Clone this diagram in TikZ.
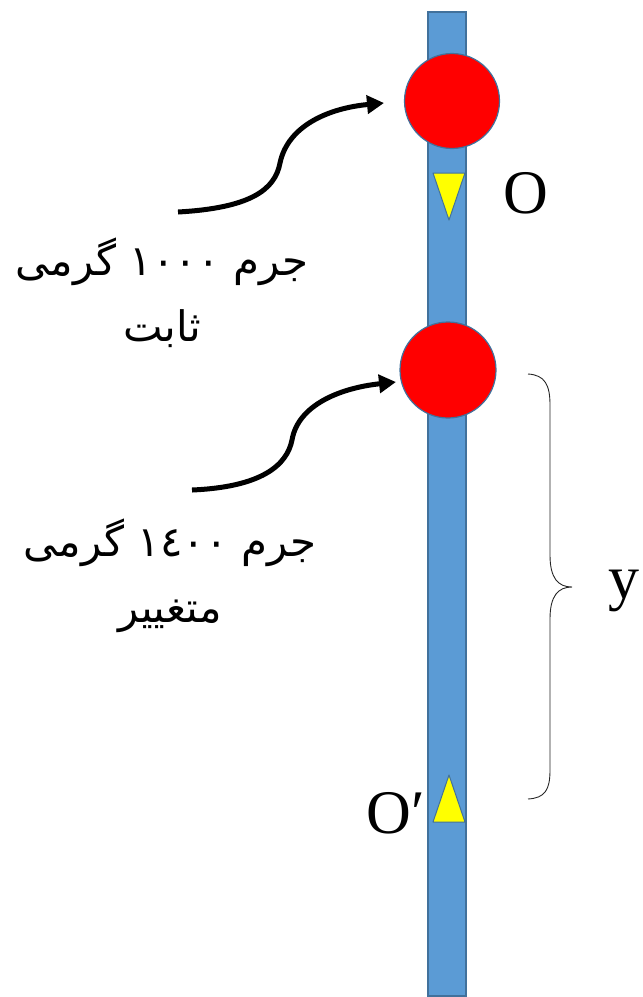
\documentclass[tikz,border=0pt]{standalone}
\usepackage{fontspec}
\setmainfont{Liberation Serif}
\newfontfamily\arabicfont[Script=Arabic]{DejaVu Sans}
\TeXXeTstate=1
\usetikzlibrary{arrows.meta}
\definecolor{barblue}{HTML}{5B9BD5}
\definecolor{edgeblue}{HTML}{41719C}
\definecolor{ballred}{HTML}{FF0000}
\definecolor{tyellow}{HTML}{FFFF00}
\tikzset{
  ball/.style={circle, fill=ballred, draw=edgeblue, line width=1.2pt, inner sep=0pt, minimum size=#1},
  marker/.style={fill=tyellow, draw=edgeblue, line width=1pt, line join=round},
  bigtxt/.style={font=\fontsize{62}{70}\selectfont, inner sep=0pt},
  fatext/.style={font=\arabicfont\fontsize{42}{50}\selectfont, align=center, inner sep=0pt},
  pointer/.style={line width=5pt, -{Triangle[length=17pt,width=18pt]}},
  bracestyle/.style={line width=0.9pt, draw=black!85},
}
\begin{document}
\begin{tikzpicture}[x=1pt,y=-1pt]
\useasboundingbox (0,0) rectangle (643,997);
% bar
\node[draw=edgeblue, fill=barblue, line width=1.2pt, minimum width=38pt, minimum height=984pt, inner sep=0pt] (bar) at (447,504) {};
% balls
\node[ball=95pt] (ball1) at (452,101) {};
\node[ball=96pt] (ball2) at (448,370) {};
% triangles
\draw[marker] (433,173) -- (465,173) -- (449,220) -- cycle;
\draw[marker] (449,775) -- (465,822) -- (433,822) -- cycle;
% labels
\node[bigtxt] (O) at (526,193) {O};
\node[bigtxt] (Op) at (396,813) {O′};
\node[bigtxt] (y) at (624,591) {y};
% brace
\draw[bracestyle] (528,374) .. controls (545,375) and (550,385) .. (550,405)
  -- (550,555) .. controls (550,578) and (558,587) .. (572,587)
  .. controls (558,587) and (550,596) .. (550,619)
  -- (550,770) .. controls (550,790) and (545,798) .. (528,799);
% Persian texts
\node[fatext] (t1) at (162,293) {\beginR جرم \beginL ١٠٠٠\endL{} گرمی\endR\\[16pt]\beginR ثابت\endR};
\node[fatext] (t2) at (170,576) {\beginR جرم \beginL ١٤٠٠\endL{} گرمی\endR\\[16pt]\beginR متغییر\endR};
% arrows
\coordinate (s1) at (178,212);
\coordinate (e1) at (384,103);
\coordinate (s2) at (192,490);
\coordinate (e2) at (396,382);
\draw[pointer] (s1) .. controls (250,208) and (275,190) .. (280,163)
  .. controls (288,125) and (330,108) .. (e1);
\draw[pointer] (s2) .. controls (262,487) and (287,465) .. (292,440)
  .. controls (298,405) and (340,388) .. (e2);
\end{tikzpicture}
\end{document}
